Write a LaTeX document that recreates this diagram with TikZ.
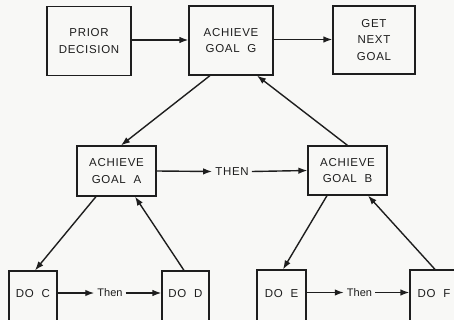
\documentclass[tikz,border=0pt]{standalone}
\usepackage{fontspec}
\setmainfont{Liberation Sans}[LetterSpace=6]
\usetikzlibrary{arrows.meta}
\definecolor{ink}{HTML}{1E1E1E}
\definecolor{paper}{HTML}{F8F8F6}
\tikzset{
  box/.style={draw=ink, line width=1.2pt, align=center, inner sep=0pt,
    font=\fontsize{11.5}{16.5}\selectfont, text=ink},
  lbl/.style={inner sep=0pt, font=\fontsize{11.5}{16.5}\selectfont, text=ink},
  arr/.style={draw=ink, line width=1.4pt, -{Latex[length=9pt,width=6.5pt]}}
}
\begin{document}
\begin{tikzpicture}[x=1pt,y=-1pt]
\useasboundingbox (0,0) rectangle (454,320);
\fill[paper] (0,0) rectangle (454,320);
\begin{scope}
\clip (0,0) rectangle (454,320);
\node[box, minimum width=84pt, minimum height=69pt] (pd) at (89,41) {PRIOR\\DECISION};
\node[box, minimum width=84pt, minimum height=69pt] (g) at (231,40.5) {ACHIEVE\\GOAL\ \ G};
\node[box, minimum width=82pt, minimum height=68pt] (gng) at (374,40) {GET\\NEXT\\GOAL};
\node[box, minimum width=79pt, minimum height=50pt] (a) at (116.5,171) {ACHIEVE\\GOAL\ \ A};
\node[box, minimum width=79pt, minimum height=49pt] (b) at (347.5,170.5) {ACHIEVE\\GOAL\ \ B};
\node[lbl] (then1) at (232,171.5) {THEN};
\node[box, minimum width=48pt, minimum height=60pt] (c) at (33,301) {};
\node[box, minimum width=47pt, minimum height=60pt] (d) at (185.5,301) {};
\node[box, minimum width=49pt, minimum height=60pt] (e) at (281.5,300) {};
\node[box, minimum width=48pt, minimum height=60pt] (f) at (434,300) {};
\node[lbl] (tc) at (33,294) {DO\ \ C};
\node[lbl] (td) at (185.5,294) {DO\ \ D};
\node[lbl] (te) at (281.5,293.5) {DO\ \ E};
\node[lbl] (tf) at (434,293.5) {DO\ \ F};
\node[lbl, font=\fontsize{11}{12}\selectfont\addfontfeature{LetterSpace=0}] (then2) at (110,293) {Then};
\node[lbl, font=\fontsize{11}{12}\selectfont\addfontfeature{LetterSpace=0}] (then3) at (359.5,292.5) {Then};
\end{scope}
% top row
\draw[arr] (pd.east |- 0,40) -- (g.west |- 0,40);
\draw[arr] (g.east |- 0,39.5) -- (gng.west |- 0,39.5);
% middle
\draw[arr] (a.east) -- ([xshift=-3pt]then1.west);
\draw[arr] ([xshift=3pt]then1.east) -- (b.west);
\draw[arr] ([xshift=-21pt]g.south) -- ([xshift=4.5pt]a.north);
\draw[arr] (b.north) -- ([xshift=26pt]g.south);
% bottom
\draw[arr] ([xshift=-20.5pt]a.south) -- ([xshift=2pt]c.north);
\draw[arr] ([xshift=-1.5pt]d.north) -- ([xshift=18.5pt]a.south);
\draw[arr] ([xshift=-20.5pt]b.south) -- ([xshift=1.5pt]e.north);
\draw[arr] ([xshift=1pt]f.north) -- ([xshift=20.5pt]b.south);
\draw[arr] (c.east |- then2) -- ([xshift=-3pt]then2.west);
\draw[arr] ([xshift=3pt]then2.east) -- (d.west |- then2);
\draw[arr] (e.east |- then3) -- ([xshift=-3pt]then3.west);
\draw[arr] ([xshift=3pt]then3.east) -- (f.west |- then3);
\end{tikzpicture}
\end{document}
